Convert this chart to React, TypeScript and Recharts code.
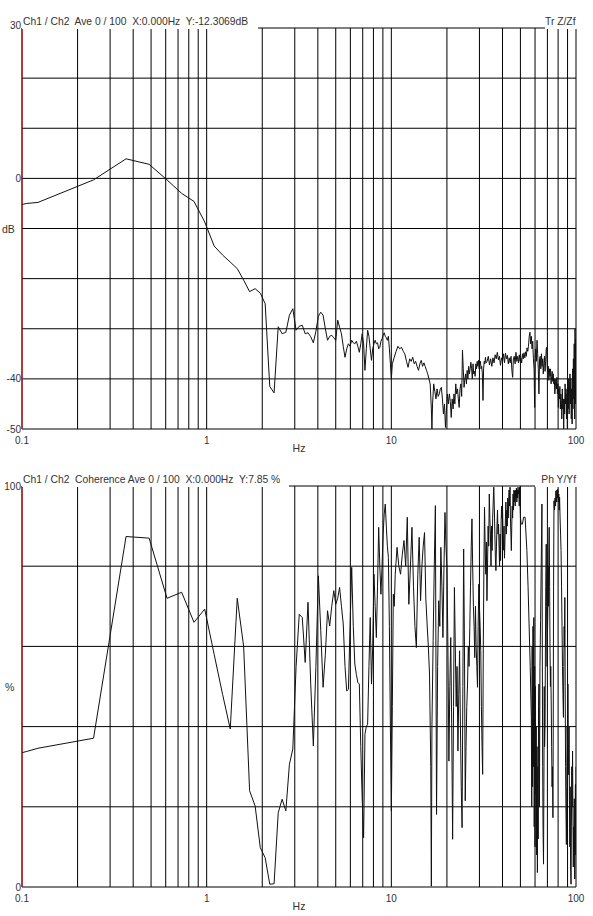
import React from "react";
import { LineChart, Line, XAxis, YAxis, CartesianGrid } from "recharts";

const FONT = "'Liberation Sans', Arial, sans-serif";

const xTicks = [0.1, 0.2, 0.3, 0.4, 0.5, 0.6, 0.7, 0.8, 0.9, 1, 2, 3, 4, 5, 6, 7, 8, 9, 10, 20, 30, 40, 50, 60, 70, 80, 90, 100];
const xLabels = [0.1, 1, 10, 100];

const magTicks = [-50, -40, -30, -20, -10, 0, 10, 20, 30];
const magLabels = [30, 0, -40, -50];
const cohTicks = [0, 20, 40, 60, 80, 100];
const cohLabels = [0, 100];

const magTitle = "Ch1 / Ch2  Ave 0 / 100  X:0.000Hz  Y:-12.3069dB";
const magRight = "Tr Z/Zf";
const cohTitle = "Ch1 / Ch2  Coherence Ave 0 / 100  X:0.000Hz  Y:7.85 %";
const cohRight = "Ph Y/Yf";

const magFreq = [
  0.1, 0.106, 0.122, 0.244, 0.366, 0.488, 0.61, 0.732, 0.854, 0.976,
  1.098, 1.22, 1.342, 1.464, 1.586, 1.708, 1.83, 1.952, 2.074, 2.196,
  2.318, 2.44, 2.562, 2.684, 2.806, 2.928, 3.05, 3.172, 3.294, 3.416,
  3.538, 3.66, 3.782, 3.904, 4.026, 4.148, 4.27, 4.392, 4.514, 4.636,
  4.758, 4.88, 5.002, 5.124, 5.246, 5.368, 5.49, 5.612, 5.734, 5.856,
  5.978, 6.1, 6.222, 6.344, 6.466, 6.588, 6.71, 6.832, 6.954, 7.076,
  7.198, 7.32, 7.442, 7.564, 7.686, 7.808, 7.93, 8.052, 8.174, 8.296,
  8.418, 8.54, 8.662, 8.784, 8.906, 9.028, 9.15, 9.272, 9.394, 9.516,
  9.638, 9.76, 9.882, 10.004, 10.126, 10.37, 10.614, 10.858, 11.1, 11.35,
  11.6, 11.83, 12.08, 12.32, 12.57, 12.81, 13.06, 13.3, 13.54, 13.79,
  14.03, 14.28, 14.52, 14.76, 15.01, 15.25, 15.5, 15.74, 15.98, 16.23,
  16.47, 16.59, 16.72, 16.96, 17.2, 17.45, 17.69, 17.93, 18.18, 18.42,
  18.66, 18.91, 19.15, 19.4, 19.64, 19.89, 20.13, 20.37, 20.62, 20.86,
  21.1, 21.35, 21.6, 21.84, 22.08, 22.33, 22.57, 22.82, 23.06, 23.3,
  23.55, 23.79, 24.04, 24.28, 24.52, 24.77, 25.01, 25.26, 25.5, 25.74,
  25.99, 26.23, 26.48, 26.72, 26.96, 27.21, 27.45, 27.7, 27.94, 28.18,
  28.43, 28.67, 28.92, 29.16, 29.4, 29.65, 29.89, 30.14, 30.38, 30.62,
  30.87, 31.11, 31.36, 31.6, 31.84, 32.09, 32.33, 32.6, 33.0, 33.5,
  34.0, 34.5, 35.0, 35.5, 36.0, 36.5, 37.0, 37.5, 38.0, 38.5,
  39.0, 39.5, 40.0, 40.5, 41.0, 41.5, 42.0, 42.5, 43.0, 43.5,
  44.0, 44.5, 45.0, 45.4, 45.8, 46.3, 46.8, 47.3, 47.8, 48.3,
  48.8, 49.3, 49.8, 50.3, 50.8, 51.3, 51.8, 52.3, 52.8, 53.3,
  53.8, 54.3, 54.8, 55.3, 55.8, 56.3, 56.8, 57.3, 57.8, 58.3,
  58.8, 59.3, 59.7, 60.1, 60.5, 61.0, 61.5, 62.0, 62.5, 63.0,
  63.5, 64.0, 64.5, 65.0, 65.5, 66.0, 66.5, 67.0, 67.5, 68.0,
  68.5, 69.0, 69.4, 69.8, 70.3, 70.8, 71.3, 71.8, 72.3, 72.8,
  73.3, 73.8, 74.3, 74.8, 75.3, 75.8, 76.3, 76.8, 77.3, 77.8,
  78.3, 78.8, 79.3, 79.8, 80.3, 80.8, 81.3, 81.8, 82.3, 82.8,
  83.3, 83.8, 84.3, 84.8, 85.3, 85.8, 86.3, 86.8, 87.3, 87.8,
  88.3, 88.8, 89.3, 89.8, 90.3, 90.8, 91.3, 91.8, 92.3, 92.8,
  93.3, 93.8, 94.3, 94.8, 95.3, 95.8, 96.3, 96.8, 97.3, 97.8,
  98.3, 98.8, 99.3, 99.7, 100,
];

const magDb = [
  -5.2, -5.0, -4.8, -0.3, 3.9, 2.8, -0.3, -3.0, -4.6, -8.7,
  -13.5, -15.3, -16.7, -18.0, -20.3, -22.6, -22.0, -22.9, -25.0, -41.5,
  -42.8, -29.6, -31.0, -30.7, -27.3, -26.0, -30.3, -29.5, -29.3, -31.0,
  -30.8, -31.6, -32.8, -30.5, -27.5, -26.7, -27.3, -30.0, -32.3, -31.5,
  -31.3, -31.8, -32.3, -28.3, -29.7, -31.0, -33.5, -35.7, -34.0, -33.0,
  -33.5, -32.3, -32.8, -33.0, -32.5, -33.5, -34.7, -33.0, -31.0, -33.0,
  -38.3, -34.0, -30.3, -31.5, -34.0, -36.3, -34.0, -33.0, -32.3, -33.0,
  -32.8, -34.0, -33.7, -32.5, -32.0, -31.3, -30.8, -31.5, -31.8, -32.3,
  -31.5, -34.0, -37.0, -40.0, -37.0, -35.7, -34.5, -33.5, -34.0, -33.7,
  -34.5, -35.0, -36.5, -37.7, -36.0, -36.5, -35.7, -37.0, -36.5, -37.5,
  -38.3, -37.0, -36.3, -37.5, -36.8, -37.5, -38.3, -39.0, -40.0, -41.0,
  -46.0, -50.0, -45.0, -41.0, -42.5, -44.0, -42.0, -43.5, -43.0, -42.0,
  -41.7, -44.0, -47.0, -45.0, -49.7, -46.0, -43.0, -45.0, -43.0, -44.5,
  -47.7, -44.0, -46.0, -43.0, -45.0, -41.0, -43.0, -42.0, -44.0, -45.7,
  -42.0, -41.0, -43.5, -34.3, -38.0, -41.7, -40.0, -39.0, -41.0, -38.3,
  -40.0, -37.5, -39.0, -38.0, -36.7, -38.0, -40.0, -37.0, -39.0, -38.5,
  -39.5, -37.0, -38.0, -36.5, -37.5, -36.3, -38.0, -37.0, -36.5, -38.0,
  -37.5, -39.0, -44.3, -38.0, -36.5, -37.0, -35.7, -36.8, -36.5, -35.5,
  -37.2, -36.0, -37.5, -35.8, -36.8, -35.2, -36.0, -34.7, -36.2, -35.5,
  -37.3, -35.8, -36.5, -35.0, -36.8, -34.9, -36.0, -35.3, -37.0, -35.8,
  -36.8, -35.5, -38.5, -39.7, -36.0, -35.5, -37.0, -34.7, -36.5, -35.5,
  -36.8, -35.2, -36.5, -35.8, -36.8, -35.0, -36.0, -34.8, -35.8, -34.6,
  -35.5, -33.8, -34.5, -33.5, -31.5, -30.7, -33.0, -31.5, -34.0, -32.5,
  -36.0, -38.0, -45.7, -36.0, -34.0, -36.5, -32.3, -35.0, -38.0, -43.0,
  -36.0, -35.5, -38.0, -35.0, -37.5, -36.0, -39.0, -37.0, -35.5, -38.5,
  -36.5, -34.0, -33.7, -37.0, -39.0, -37.5, -40.3, -38.0, -39.5, -38.0,
  -41.0, -39.5, -38.5, -40.5, -39.0, -41.0, -40.0, -43.0, -41.5, -40.0,
  -42.0, -39.7, -43.0, -41.0, -45.7, -42.0, -44.0, -41.5, -46.0, -43.0,
  -44.3, -48.0, -42.0, -46.0, -44.0, -50.0, -44.0, -47.0, -41.0, -45.0,
  -42.0, -48.0, -43.0, -50.0, -42.0, -46.0, -40.0, -47.0, -41.0, -39.0,
  -45.0, -40.0, -48.0, -42.0, -49.0, -38.0, -46.0, -36.0, -44.0, -33.0,
  -48.0, -30.0, -45.0, -32.0, -40.0,
];

const cohFreq = [
  0.1, 0.106, 0.122, 0.244, 0.366, 0.488, 0.61, 0.732, 0.854, 0.976,
  1.098, 1.22, 1.342, 1.464, 1.586, 1.708, 1.83, 1.952, 2.074, 2.196,
  2.318, 2.44, 2.562, 2.684, 2.806, 2.928, 3.05, 3.172, 3.294, 3.416,
  3.538, 3.66, 3.782, 3.904, 4.026, 4.148, 4.27, 4.392, 4.514, 4.636,
  4.758, 4.88, 5.002, 5.124, 5.246, 5.368, 5.49, 5.612, 5.734, 5.856,
  5.978, 6.1, 6.222, 6.344, 6.466, 6.588, 6.71, 6.832, 6.954, 7.076,
  7.198, 7.32, 7.442, 7.564, 7.686, 7.808, 7.93, 8.052, 8.174, 8.296,
  8.418, 8.54, 8.662, 8.784, 8.906, 9.028, 9.15, 9.272, 9.394, 9.516,
  9.638, 9.76, 9.882, 10.004, 10.126, 10.248, 10.37, 10.5, 10.74, 10.98,
  11.22, 11.47, 11.71, 11.96, 12.2, 12.44, 12.69, 12.93, 13.18, 13.42,
  13.66, 13.91, 14.15, 14.4, 14.64, 14.88, 15.13, 15.37, 15.62, 15.86,
  16.1, 16.35, 16.47, 16.59, 16.84, 17.08, 17.32, 17.57, 17.81, 18.06,
  18.3, 18.54, 18.79, 19.03, 19.28, 19.52, 19.76, 20.01, 20.25, 20.5,
  20.74, 20.98, 21.23, 21.47, 21.72, 21.96, 22.2, 22.45, 22.69, 22.94,
  23.18, 23.42, 23.67, 23.91, 24.16, 24.4, 24.64, 24.89, 25.13, 25.38,
  25.62, 25.86, 26.11, 26.35, 26.6, 26.84, 27.09, 27.33, 27.57, 27.82,
  28.06, 28.3, 28.55, 28.79, 29.04, 29.28, 29.52, 29.77, 30.01, 30.26,
  30.5, 30.74, 30.99, 31.23, 31.48, 31.72, 31.96, 32.21, 32.45, 32.7,
  32.94, 33.18, 33.43, 33.67, 33.92, 34.16, 34.4, 34.65, 34.89, 35.14,
  35.38, 35.62, 35.87, 36.11, 36.36, 36.6, 36.84, 37.09, 37.33, 37.58,
  37.82, 38.06, 38.31, 38.55, 38.8, 39.04, 39.28, 39.53, 39.77, 40.02,
  40.26, 40.5, 40.75, 40.99, 41.24, 41.48, 41.72, 41.97, 42.21, 42.46,
  42.7, 42.94, 43.19, 43.43, 43.68, 43.92, 44.16, 44.41, 44.65, 44.9,
  45.14, 45.38, 45.63, 45.87, 46.12, 46.36, 46.6, 46.85, 47.09, 47.34,
  47.58, 47.82, 48.07, 48.31, 48.56, 48.8, 49.04, 49.29, 49.53, 49.78,
  50.02, 50.5, 51.3, 52.0, 53.0, 54.2, 55.0, 55.7, 56.5, 57.3,
  57.6, 57.9, 58.2, 58.5, 58.8, 59.1, 59.4, 59.7, 60.0,
  60.3, 60.6, 60.9, 61.2, 61.5, 61.8, 62.1, 62.4, 62.7,
  63.0, 63.4, 63.8, 64.3, 64.8, 65.1, 65.4, 65.7, 66.0, 66.3,
  66.7, 67.0, 67.3, 67.6, 68.0, 68.3, 68.6, 69.0, 69.3, 69.7,
  70.0, 70.3, 70.7, 71.0, 71.3, 71.6, 72.0, 72.3, 72.7, 73.0,
  73.4, 73.8, 74.2, 74.6, 75.0, 75.3, 75.6, 76.0, 76.5, 77.0,
  77.5, 77.8, 78.3, 78.8, 79.2, 79.7, 80.2, 80.7, 81.1, 81.5,
  82.0, 82.5, 83.0, 83.5, 84.0, 84.5, 85.0, 85.5, 85.9, 86.3,
  86.6, 87.0, 87.4, 87.8, 88.2, 88.7, 89.1, 89.5, 90.0, 90.4,
  90.8, 91.3, 91.7, 92.2, 92.6, 93.0, 93.5, 94.0, 94.4, 94.9,
  95.3, 95.8, 96.2, 96.7, 97.1, 97.5, 97.9, 98.4, 98.8, 99.3,
  99.7, 100,
];

const cohPct = [
  33.5, 33.8, 34.6, 37.1, 87.4, 87.0, 72.0, 73.5, 66.0, 69.3,
  58.0, 48.0, 39.4, 72.0, 60.0, 24.0, 20.2, 9.8, 7.3, 0.7,
  0.8, 18.5, 21.9, 19.0, 30.6, 34.4, 55.0, 68.0, 67.2, 56.0,
  71.0, 50.6, 35.2, 55.0, 77.6, 64.0, 49.8, 58.0, 68.9, 65.1,
  70.0, 73.9, 70.5, 72.0, 74.7, 70.0, 65.6, 55.0, 48.9, 49.3,
  65.0, 79.7, 65.0, 55.6, 53.0, 51.0, 50.6, 35.0, 22.0, 12.3,
  38.1, 40.0, 40.6, 55.0, 67.2, 50.6, 60.0, 78.0, 70.0, 62.2,
  75.0, 89.7, 80.0, 73.0, 80.0, 88.0, 93.0, 95.5, 90.0, 85.0,
  82.2, 65.0, 40.0, 19.0, 45.0, 73.0, 70.0, 78.0, 84.7, 80.0,
  78.0, 83.0, 86.4, 80.0, 92.2, 70.5, 80.0, 89.7, 75.0, 65.0,
  59.7, 78.0, 87.2, 71.4, 80.0, 85.0, 88.4, 72.0, 65.6, 60.0,
  53.1, 30.0, 0.2, 40.0, 61.4, 80.0, 95.1, 18.1, 55.0, 71.4,
  65.0, 84.7, 75.0, 62.2, 80.0, 93.4, 85.0, 79.7, 60.0, 31.4,
  50.0, 62.2, 40.0, 11.9, 45.0, 74.7, 60.0, 45.0, 55.0, 33.9,
  48.0, 58.9, 40.0, 25.0, 14.8, 50.0, 84.3, 60.0, 21.5, 35.0,
  45.0, 50.6, 60.0, 55.0, 64.7, 75.0, 85.0, 91.8, 80.0, 70.0,
  65.0, 57.2, 70.0, 60.0, 55.0, 49.8, 65.0, 75.5, 70.0, 65.0,
  58.9, 45.0, 35.0, 28.1, 60.0, 80.0, 94.7, 85.0, 78.0, 86.0,
  71.4, 80.0, 90.0, 85.0, 98.0, 92.0, 88.0, 80.0, 90.0, 83.9,
  92.0, 96.0, 99.7, 95.0, 88.0, 82.0, 78.9, 85.0, 90.0, 94.0,
  88.0, 90.5, 85.0, 80.0, 88.0, 81.4, 90.0, 95.0, 92.0, 94.7,
  88.0, 84.0, 90.0, 82.0, 86.4, 92.0, 96.0, 88.0, 94.0, 90.0,
  97.0, 92.0, 96.0, 99.0, 95.0, 99.7, 92.0, 88.0, 83.9, 90.0,
  95.0, 92.0, 98.0, 94.0, 99.0, 96.0, 98.8, 95.0, 99.0, 97.0,
  99.5, 96.0, 99.0, 97.0, 99.7, 98.0, 99.0, 95.0, 99.7, 96.0,
  92.0, 90.5, 90.5, 92.2, 92.2, 83.9, 75.0, 65.6, 55.0, 42.3,
  20.0, 60.0, 25.0, 65.0, 30.0, 67.2, 15.0, 55.0, 10.0,
  50.0, 23.1, 40.0, 8.0, 35.0, 3.6, 30.0, 12.0, 45.0,
  50.6, 20.0, 55.0, 66.4, 80.0, 88.0, 95.5, 60.0, 30.0, 15.0,
  5.7, 25.0, 50.0, 35.0, 40.6, 60.0, 75.0, 85.5, 70.0, 55.0,
  62.0, 67.2, 80.0, 70.0, 85.0, 89.7, 75.0, 60.0, 50.0, 55.0,
  46.4, 35.0, 25.0, 30.0, 17.3, 40.0, 75.0, 96.3, 94.0, 97.0,
  95.0, 98.8, 96.0, 99.0, 97.0, 99.2, 96.0, 98.0, 94.0, 97.2,
  92.0, 88.0, 83.9, 75.0, 65.0, 55.0, 48.0, 42.3, 55.0, 65.0,
  60.0, 72.2, 50.0, 30.0, 20.0, 10.6, 25.0, 40.0, 35.0, 50.6,
  38.0, 28.0, 40.0, 20.6, 10.0, 25.0, 5.0, 0.7, 15.0, 30.0,
  20.0, 33.9, 20.0, 5.0, 15.0, 9.0, 22.0, 2.0, 12.0, 25.6,
  8.0, 30.0,
];

const magData = magFreq.map((f, i) => ({ f, v: magDb[i] }));
const cohData = cohFreq.map((f, i) => ({ f, v: cohPct[i] }));

const textStyle: React.CSSProperties = {
  position: "absolute",
  fontFamily: FONT,
  fontSize: 10.3,
  color: "#333",
  whiteSpace: "pre",
  lineHeight: "14px",
};

type PanelProps = {
  top: number;
  height: number;
  xAxisHeight: number;
  data: { f: number; v: number }[];
  domain: [number, number];
  ticks: number[];
  labels: number[];
  topDy: number;
  title: string;
  titleBoxRight: number;
  right: string;
  rightBoxLeft: number;
  rightTextEnd: number;
  unit: string;
  unitLeft: number;
};

function Panel(p: PanelProps) {
  const plotTop = 28;
  const plotBottom = p.height - p.xAxisHeight;
  const plotLeft = 22;
  const plotRight = 576;
  const XTick = (props: any) => {
    const { x, y, payload } = props;
    if (!xLabels.includes(payload.value)) return <g />;
    return (
      <text x={x} y={y + 14.5} textAnchor="middle" fontSize={10} fontFamily={FONT} fill="#333">
        {String(payload.value)}
      </text>
    );
  };
  const YTick = (props: any) => {
    const { x, y, payload } = props;
    if (!p.labels.includes(payload.value)) return <g />;
    const dy = payload.value === p.domain[1] ? p.topDy : 3.5;
    return (
      <text x={x} y={y + dy} textAnchor="end" fontSize={10} fontFamily={FONT} fill="#333">
        {String(payload.value)}
      </text>
    );
  };
  return (
    <div style={{ position: "absolute", left: 0, top: p.top, width: 593, height: p.height }}>
      <LineChart width={593} height={p.height} data={p.data} margin={{ top: plotTop, right: 593 - plotRight, bottom: 0, left: 0 }}>
        <CartesianGrid stroke="#000" strokeWidth={1} />
        <XAxis
          dataKey="f"
          type="number"
          scale="log"
          domain={[0.1, 100]}
          ticks={xTicks}
          interval={0}
          allowDataOverflow
          height={p.xAxisHeight}
          tick={XTick}
          tickLine={false}
          axisLine={false}
          tickSize={0}
          tickMargin={0}
        />
        <YAxis
          type="number"
          domain={p.domain}
          ticks={p.ticks}
          interval={0}
          allowDataOverflow
          width={plotLeft}
          tick={YTick}
          tickLine={false}
          axisLine={{ stroke: "#d00000", strokeWidth: 1 }}
          tickSize={0}
          tickMargin={1}
        />
        <Line dataKey="v" type="linear" stroke="#111" strokeWidth={1} dot={false} isAnimationActive={false} />
      </LineChart>
      <div style={{ ...textStyle, left: plotLeft, top: plotTop - 13.4, height: 14, width: p.titleBoxRight - plotLeft, background: "#fff", paddingLeft: 1, boxSizing: "border-box", overflow: "hidden" }}>
        {p.title}
      </div>
      <div style={{ ...textStyle, left: p.rightBoxLeft, top: plotTop - 13.4, height: 14, width: 593 - p.rightBoxLeft, background: "#fff", textAlign: "right", paddingRight: 593 - p.rightTextEnd, boxSizing: "border-box" }}>
        {p.right}
      </div>
      <div style={{ ...textStyle, fontSize: 10.5, left: p.unitLeft, top: (plotTop + plotBottom) / 2 - 7 }}>{p.unit}</div>
      <div style={{ ...textStyle, fontSize: 10.5, left: (plotLeft + plotRight) / 2 - 20, width: 40, textAlign: "center", top: plotBottom + 12 }}>Hz</div>
    </div>
  );
}

export default function App() {
  return (
    <div style={{ position: "absolute", left: 0, top: 0, width: 593, height: 916, overflow: "hidden", background: "#fff" }}>
      <Panel
        top={0}
        height={459}
        xAxisHeight={30}
        data={magData}
        domain={[-50, 30]}
        ticks={magTicks}
        labels={magLabels}
        topDy={1}
        title={magTitle}
        titleBoxRight={258}
        right={magRight}
        rightBoxLeft={545}
        rightTextEnd={572}
        unit="dB"
        unitLeft={2}
      />
      <Panel
        top={458}
        height={458}
        xAxisHeight={29}
        data={cohData}
        domain={[0, 100]}
        ticks={cohTicks}
        labels={cohLabels}
        topDy={3.5}
        title={cohTitle}
        titleBoxRight={289}
        right={cohRight}
        rightBoxLeft={535}
        rightTextEnd={576}
        unit="%"
        unitLeft={5}
      />
    </div>
  );
}
